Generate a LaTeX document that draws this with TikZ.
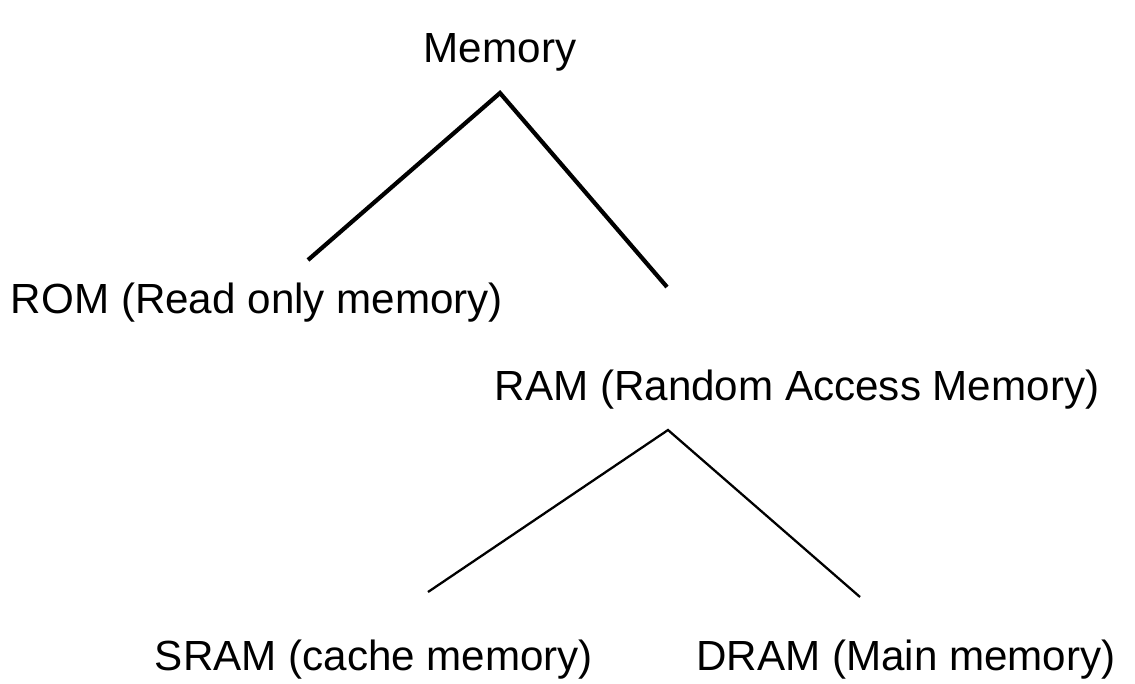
\documentclass[tikz,border=0pt]{standalone}
\usepackage{fontspec}
\setmainfont{Liberation Sans}
\usepackage{tikz}
\usetikzlibrary{positioning}

\begin{document}
\begin{tikzpicture}[-,x=0.02cm,y=-0.02cm,
                    main node/.style={inner sep=0pt,anchor=base,font=\fontsize{24}{28}\selectfont},
                    top edge/.style={line width=2.4pt},
                    low edge/.style={line width=1.3pt}]
  \useasboundingbox (0,0) rectangle (1135,683);

%DRAWING LABELS
  \node[main node] (mem) at (500,62) {Memory};
  \node[main node] (rom) at (257,313) {ROM (Read only memory)};
  \node[main node] (ram) at (797,400) {RAM (Random Access Memory)};
  \node[main node] (sram) at (374,670) {SRAM (cache memory)};
  \node[main node] (dram) at (906,670) {DRAM (Main memory)};

%DRAWING TREE
  \coordinate (memTip) at (500,93);
  \coordinate (romEnd) at (308,260);
  \coordinate (ramEnd) at (667,287);
  \draw[top edge] (romEnd) -- (memTip) -- (ramEnd);

  \coordinate (ramTip) at (668,430);
  \coordinate (sramEnd) at (428,592);
  \coordinate (dramEnd) at (860,597);
  \draw[low edge] (sramEnd) -- (ramTip) -- (dramEnd);

\end{tikzpicture}
\end{document}
